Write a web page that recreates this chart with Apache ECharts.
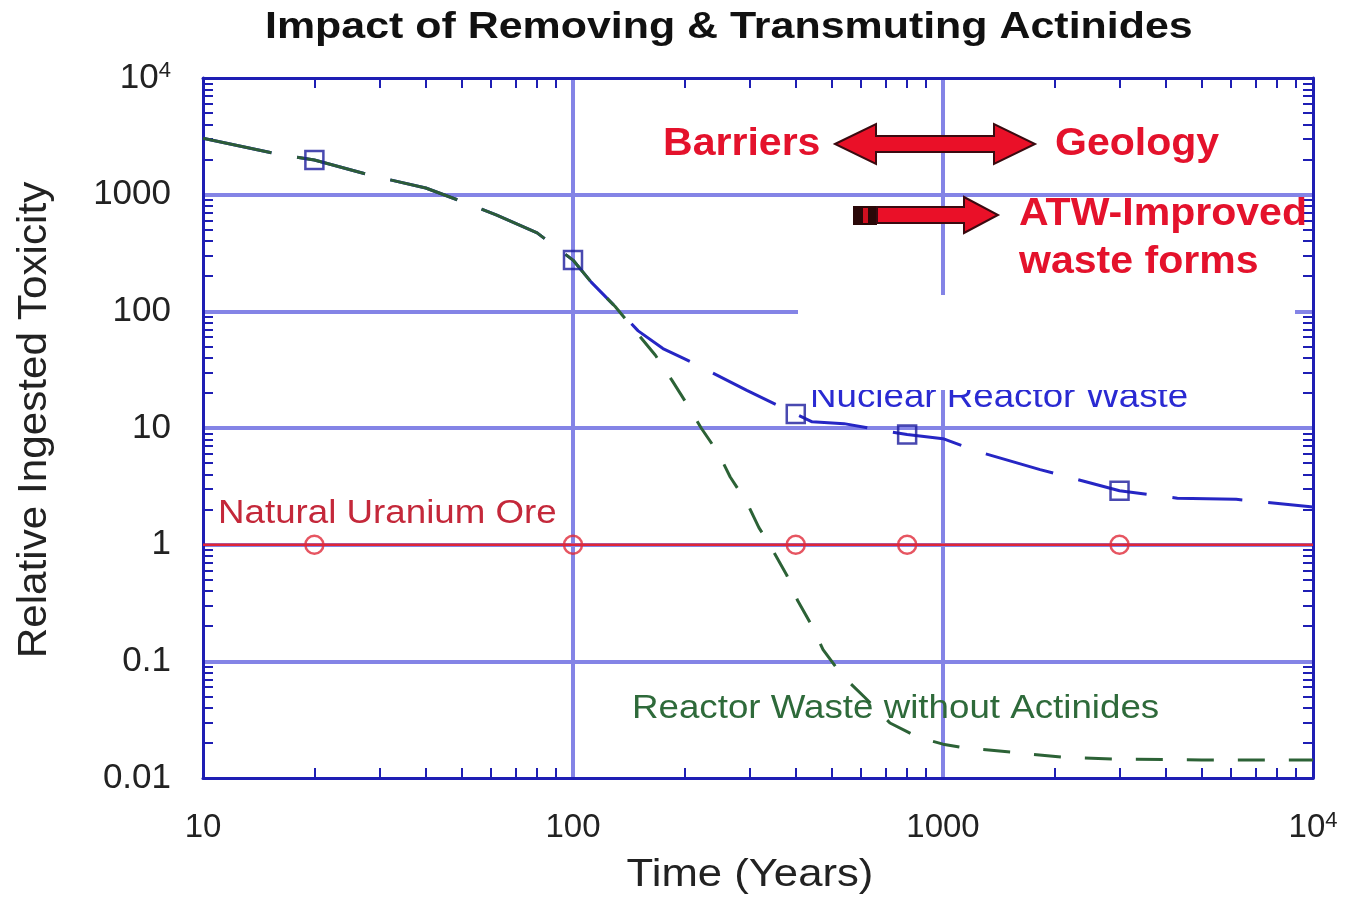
<!DOCTYPE html>
<html>
<head>
<meta charset="utf-8">
<title>Impact of Removing & Transmuting Actinides</title>
<script src="https://cdn.jsdelivr.net/npm/echarts@6/dist/echarts.min.js"></script>
<style>
html, body { margin: 0; padding: 0; background: #fff; }
#chart { width: 1347px; height: 900px; }
</style>
</head>
<body>
<div id="chart"></div>
<script>
// values (log-log, years vs relative toxicity)
const sharedYears = [10, 16, 20, 29, 40, 54, 62, 80, 100];
const sharedTox = [3050, 2220, 1980, 1440, 1140, 800, 670, 470, 275];
const reactorYears = [112, 130, 150, 175, 201, 295, 400, 443, 540, 675, 800, 1000, 1260, 1830, 3000, 4300, 6200, 10000];
const reactorTox = [178, 110, 68, 48, 39, 21, 13.2, 11.3, 10.9, 9.6, 8.8, 8.1, 6.2, 4.4, 2.9, 2.5, 2.45, 2.1];
const noActYears = [112, 130, 167, 185, 206, 222, 247, 266, 295, 318, 340, 378, 405, 443, 474, 533, 615, 719, 855, 1000, 1140, 1330, 2085, 3000, 5000, 10000];
const noActTox = [178, 110, 42, 25.7, 15, 10, 6.1, 3.8, 2.3, 1.4, 1.0, 0.55, 0.33, 0.2, 0.126, 0.076, 0.049, 0.0296, 0.0224, 0.0195, 0.0181, 0.0174, 0.0151, 0.0145, 0.0143, 0.0143];
const oreYears = [10, 10000];
const oreTox = [1, 1];
const markerYears = [20, 100, 400, 800, 3000];
const reactorMarkTox = [1980, 275, 13.2, 8.8, 2.9];
const oreMarkTox = [1, 1, 1, 1, 1];
const xTickLabels = ['10', '100', '1000', '10^4'];
const yTickLabels = ['0.01', '0.1', '1', '10', '100', '1000', '10^4'];

const FONT = '"Liberation Sans", Arial, sans-serif';
const frameColor = '#1e1eb4';
const gridColor = '#8484e6';

function zip(xs, ys) { return xs.map((x, i) => [x, ys[i]]); }

// minor ticks 2..9 inside every decade
function minorTicks(e0, e1) {
  const out = [];
  for (let e = e0; e < e1; e++) {
    for (let k = 2; k < 10; k++) out.push(+(k * Math.pow(10, e)).toPrecision(6));
  }
  return out;
}

function tickText(labels, e0) {
  return function (v) {
    const s = labels[Math.round(Math.log10(v)) - e0];
    if (!s) return '';
    const p = s.split('^');
    return p.length > 1 ? '{b|' + p[0] + '}{s|' + p[1] + '}' : '{b|' + s + '}';
  };
}

function richFor(size) {
  return {
    b: { fontSize: size, color: '#222', fontFamily: FONT, lineHeight: size + 2 },
    s: { fontSize: 22, color: '#222', fontFamily: FONT, verticalAlign: 'top', lineHeight: 20 }
  };
}

function minorAxis(min, max, pos, ticks, showLine) {
  return {
    type: 'log', logBase: 10, min: min, max: max, position: pos,
    axisLine: { show: showLine, lineStyle: { color: frameColor, width: 3 } },
    axisTick: { show: true, inside: true, length: 10, customValues: ticks, lineStyle: { color: frameColor, width: 2 } },
    axisLabel: { show: false },
    splitLine: { show: false }
  };
}

function label(text, x, y, color, size, opts) {
  return Object.assign({
    type: 'text', x: x, y: y, z: 50,
    style: { text: text, fill: color, fontSize: size, fontFamily: FONT, align: 'left', verticalAlign: 'middle' }
  }, opts || {});
}

const chart = echarts.init(document.getElementById('chart'));

const red = '#e4122c';
const option = {
  animation: false,
  backgroundColor: '#fff',
  grid: { left: 203, right: 34, top: 78, bottom: 122, containLabel: false },
  xAxis: [
    {
      type: 'log', logBase: 10, min: 10, max: 10000, position: 'bottom',
      axisLine: { lineStyle: { color: frameColor, width: 3 } },
      axisTick: { show: false },
      axisLabel: { formatter: tickText(xTickLabels, 1), rich: richFor(33), margin: 32 },
      splitLine: { show: true, showMinLine: false, showMaxLine: false, lineStyle: { color: gridColor, width: 4 } }
    },
    minorAxis(10, 10000, 'top', minorTicks(1, 4), true),
    minorAxis(10, 10000, 'bottom', minorTicks(1, 4), false)
  ],
  yAxis: [
    {
      type: 'log', logBase: 10, min: 0.01, max: 10000, position: 'left',
      axisLine: { lineStyle: { color: frameColor, width: 3 } },
      axisTick: { show: false },
      axisLabel: { formatter: tickText(yTickLabels, -2), rich: richFor(35), margin: 32 },
      splitLine: { show: true, showMinLine: false, showMaxLine: false, lineStyle: { color: gridColor, width: 4 } }
    },
    minorAxis(0.01, 10000, 'right', minorTicks(-2, 4), true),
    minorAxis(0.01, 10000, 'left', minorTicks(-2, 4), false)
  ],
  series: [
    {
      name: 'Nuclear Reactor Waste', type: 'line', symbol: 'none', z: 3,
      data: zip(sharedYears, sharedTox).concat(zip(reactorYears, reactorTox)),
      lineStyle: { color: '#2626c4', width: 3, type: [70, 26] }
    },
    {
      name: 'shared', type: 'line', symbol: 'none', z: 4,
      data: zip(sharedYears, sharedTox),
      lineStyle: { color: '#2c5c38', width: 3, type: [70, 26] }
    },
    {
      name: 'Reactor Waste without Actinides', type: 'line', symbol: 'none', z: 4,
      data: zip(sharedYears.slice(-1), sharedTox.slice(-1)).concat(zip(noActYears, noActTox)),
      lineStyle: { color: '#2c6236', width: 3, type: [27, 24] }
    },
    {
      name: 'Natural Uranium Ore', type: 'line', symbol: 'none', z: 4,
      data: zip(oreYears, oreTox),
      lineStyle: { color: '#e02638', width: 2.5 }
    },
    {
      type: 'scatter', symbol: 'rect', symbolSize: 18, z: 5,
      data: zip(markerYears, reactorMarkTox),
      itemStyle: { color: 'rgba(0,0,0,0)', borderColor: '#1c1c9c', borderWidth: 2.5 }
    },
    {
      type: 'scatter', symbol: 'circle', symbolSize: 18, z: 5,
      data: zip(markerYears, oreMarkTox),
      itemStyle: { color: 'rgba(0,0,0,0)', borderColor: '#e02a3a', borderWidth: 2.5 }
    }
  ],
  graphic: [
    // title and axis names
    label('Impact of Removing & Transmuting Actinides', 265, 28, '#111', 37,
      { scaleX: 1.16, style: { text: 'Impact of Removing & Transmuting Actinides', fill: '#111', fontSize: 37, fontWeight: 'bold', fontFamily: FONT, align: 'left', verticalAlign: 'middle' } }),
    label('Time (Years)', 750, 875, '#222', 39,
      { scaleX: 1.12, style: { text: 'Time (Years)', fill: '#222', fontSize: 39, fontFamily: FONT, align: 'center', verticalAlign: 'middle' } }),
    label('Relative Ingested Toxicity', 35, 420, '#222', 41,
      { rotation: Math.PI / 2, scaleX: 1.03, style: { text: 'Relative Ingested Toxicity', fill: '#222', fontSize: 41, fontFamily: FONT, align: 'center', verticalAlign: 'middle' } }),
    // curve labels
    label('Natural Uranium Ore', 218, 514, '#c4283a', 34, { scaleX: 1.08 }),
    label('Reactor Waste without Actinides', 632, 709, '#2e6a3a', 34, { scaleX: 1.08 }),
    label('Nuclear Reactor Waste', 810, 398, '#2a2ad2', 34, { scaleX: 1.08 }),
    // blank panel covering part of the plot
    { type: 'rect', z: 100, shape: { x: 798, y: 295, width: 497, height: 95 }, style: { fill: '#fff' } },
    { type: 'text', x: 663, y: 145, scaleX: 1.08, z: 110,
      style: { text: 'Barriers', fill: red, fontSize: 38, fontWeight: 'bold', fontFamily: FONT, align: 'left', verticalAlign: 'middle' } },
    { type: 'text', x: 1055, y: 145, scaleX: 1.08, z: 110,
      style: { text: 'Geology', fill: red, fontSize: 38, fontWeight: 'bold', fontFamily: FONT, align: 'left', verticalAlign: 'middle' } },
    { type: 'text', x: 1019, y: 215, scaleX: 1.08, z: 110,
      style: { text: 'ATW-Improved', fill: red, fontSize: 38, fontWeight: 'bold', fontFamily: FONT, align: 'left', verticalAlign: 'middle' } },
    { type: 'text', x: 1019, y: 263, scaleX: 1.08, z: 110,
      style: { text: 'waste forms', fill: red, fontSize: 38, fontWeight: 'bold', fontFamily: FONT, align: 'left', verticalAlign: 'middle' } },
    { type: 'polygon', z: 110,
      shape: { points: [[835, 144], [876, 124], [876, 136], [994, 136], [994, 124], [1035, 144], [994, 164], [994, 152], [876, 152], [876, 164]] },
      style: { fill: '#ea1028', stroke: '#3a0a10', lineWidth: 2 } },
    { type: 'rect', z: 110, shape: { x: 853, y: 206, width: 24, height: 19 }, style: { fill: '#2a0808' } },
    { type: 'rect', z: 111, shape: { x: 863, y: 208, width: 5, height: 15 }, style: { fill: '#d01020' } },
    { type: 'polygon', z: 110,
      shape: { points: [[877, 207], [964, 207], [964, 197], [998, 215], [964, 233], [964, 223], [877, 223]] },
      style: { fill: '#ea1028', stroke: '#3a0a10', lineWidth: 2 } }
  ]
};

chart.setOption(option);
</script>
</body>
</html>
